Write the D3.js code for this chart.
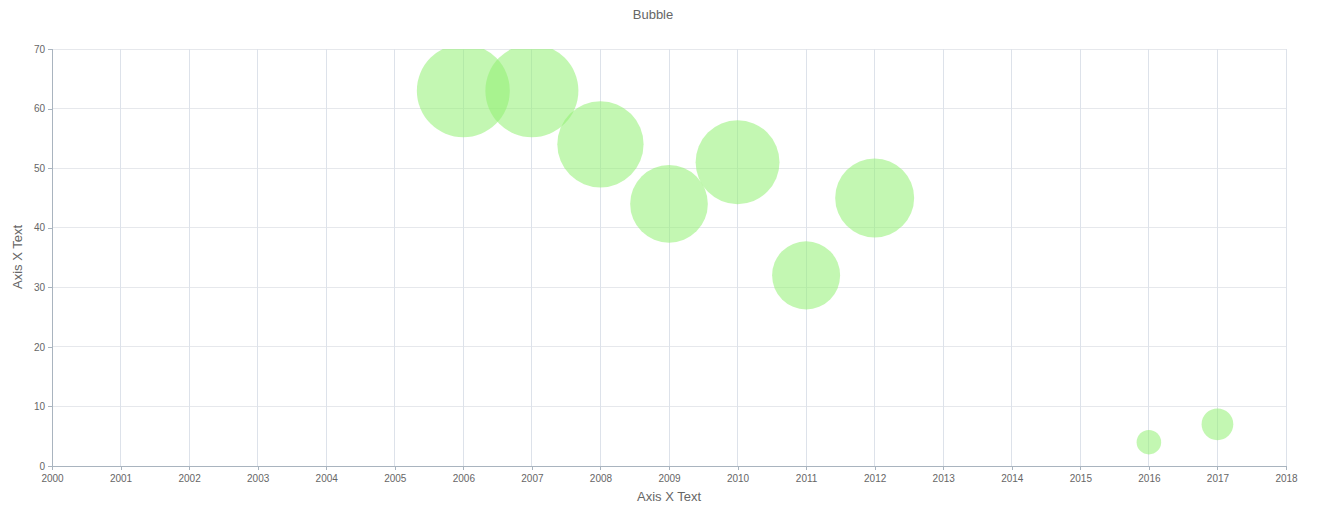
<!DOCTYPE html>
<html><head><meta charset="utf-8">
<script src="https://cdn.jsdelivr.net/npm/d3@7"></script>
<style>
body{margin:0;background:#fff;font-family:"Liberation Sans",Arial,sans-serif;}
svg text{font-family:"Liberation Sans",Arial,sans-serif;}
</style></head>
<body><svg id="c" width="1328" height="512"></svg>
<script>
const years = [2006, 2007, 2008, 2009, 2010, 2011, 2012, 2016, 2017];
const values = [63, 63, 54, 44, 51, 32, 45, 4, 7];
const sizes = [86, 86, 74, 60, 70, 46, 62, 6, 10];
const xTicks = d3.range(2000, 2019);
const yTicks = [0, 10, 20, 30, 40, 50, 60, 70];

const W = 1328, H = 512;
const m = {left: 52, right: 42, top: 49, bottom: 46};
const svg = d3.select("#c");
const x = d3.scaleLinear().domain([2000, 2018]).range([m.left, W - m.right]);
const y = d3.scaleLinear().domain([0, 70]).range([H - m.bottom, m.top]);
const r = d3.scaleSqrt().domain([0, 86]).range([0, 46.5]);

svg.append("defs").append("clipPath").attr("id", "clip")
  .append("rect").attr("x", m.left).attr("y", m.top)
  .attr("width", x(2018) - m.left).attr("height", y(0) - m.top);

// grid
svg.append("g").selectAll("line").data(yTicks.slice(1)).join("line")
  .attr("x1", m.left).attr("x2", x(2018)).attr("y1", d => y(d)).attr("y2", d => y(d))
  .attr("stroke", "#e6e8ec").attr("stroke-width", 1).attr("shape-rendering", "crispEdges");
svg.append("g").selectAll("line").data(xTicks.slice(1)).join("line")
  .attr("x1", d => x(d)).attr("x2", d => x(d)).attr("y1", m.top).attr("y2", y(0))
  .attr("stroke", "#dde2ea").attr("stroke-width", 1).attr("shape-rendering", "crispEdges");

// bubbles
svg.append("g").attr("clip-path", "url(#clip)").selectAll("circle").data(years).join("circle")
  .attr("cx", (d, i) => x(d)).attr("cy", (d, i) => y(values[i])).attr("r", (d, i) => r(sizes[i]))
  .attr("fill", "rgb(146,240,115)").attr("fill-opacity", 0.55);

// axes
const xAxis = svg.append("g").attr("transform", `translate(0,${y(0)})`)
  .call(d3.axisBottom(x).tickValues(xTicks).tickFormat(d3.format("d")).tickSizeOuter(0).tickSize(4));
const yAxis = svg.append("g").attr("transform", `translate(${m.left},0)`)
  .call(d3.axisLeft(y).tickValues(yTicks).tickSizeOuter(0).tickSize(4));
[xAxis, yAxis].forEach(a => {
  a.select(".domain").attr("stroke", "#a9b4bf").attr("shape-rendering", "crispEdges");
  a.selectAll(".tick line").attr("stroke", "#a9b4bf").attr("shape-rendering", "crispEdges");
  a.selectAll(".tick text").attr("fill", "#666").attr("font-size", 10);
});
xAxis.selectAll(".tick text").attr("dy", "0.9em");

// titles
svg.append("text").attr("x", 653).attr("y", 19).attr("text-anchor", "middle")
  .attr("font-size", 13).attr("fill", "#666").text("Bubble");
svg.append("text").attr("x", 669).attr("y", 501).attr("text-anchor", "middle")
  .attr("font-size", 13).attr("fill", "#666").text("Axis X Text");
svg.append("text").attr("transform", "translate(22,257) rotate(-90)").attr("text-anchor", "middle")
  .attr("font-size", 13).attr("fill", "#666").text("Axis X Text");
</script></body></html>
